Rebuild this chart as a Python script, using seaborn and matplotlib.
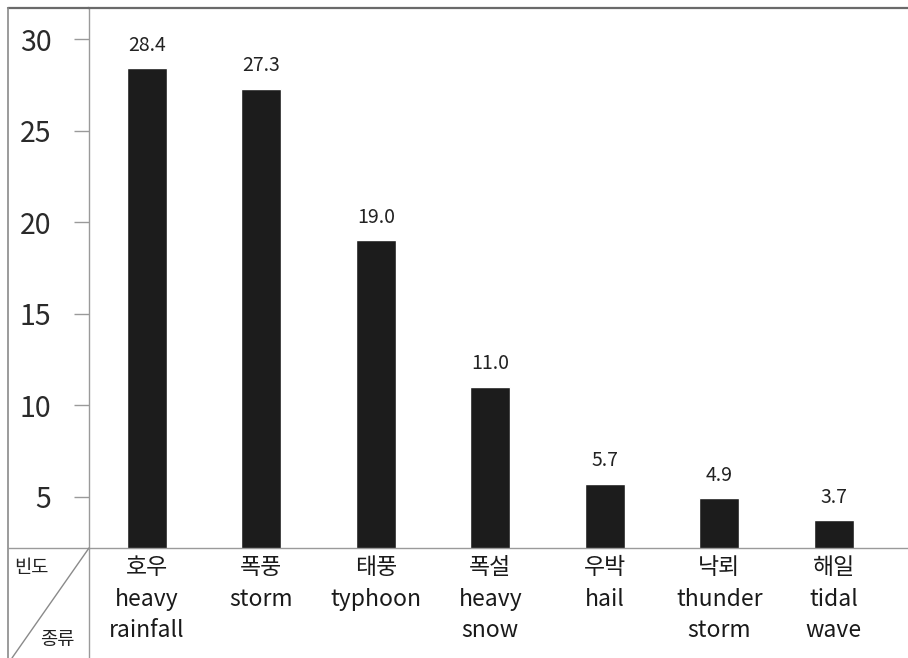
import matplotlib
matplotlib.use("Agg")
import matplotlib.pyplot as plt
from matplotlib.lines import Line2D
import seaborn as sns
import pandas as pd

# frequency (%) of each disaster type
korean = ["호우", "폭풍", "태풍", "폭설", "우박", "낙뢰", "해일"]
english = ["heavy\nrainfall", "storm", "typhoon", "heavy\nsnow", "hail",
           "thunder\nstorm", "tidal\nwave"]
freq = [28.4, 27.3, 19.0, 11.0, 5.7, 4.9, 3.7]
yticks = [5, 10, 15, 20, 25, 30]
row_label = "빈도"
col_label = "종류"

W, H = 908, 658

sns.set_style("white")
plt.rcParams['font.family'] = ['Noto Sans CJK KR', 'DejaVu Sans']

df = pd.DataFrame({"kind": [k + "\n" + e for k, e in zip(korean, english)],
                   "freq": freq})

fig = plt.figure(figsize=(W / 100, H / 100), dpi=100)
# axes: left at the y-axis line, bottom at the baseline, top at the frame
ax = fig.add_axes([89 / W, (H - 548) / H, 1 - 89 / W, (548 - 8) / H])

sns.barplot(data=df, x="kind", y="freq", color="#1c1c1c", saturation=1,
            width=0.35, ax=ax)
ax.bar_label(ax.containers[0], fmt="%.1f", padding=9, fontsize=14,
             color="#222222")

ax.set_xlim(-0.507, 6.65)
ax.set_ylim(2.19, 31.7)
ax.set_yticks(yticks)
ax.set_xlabel("")
ax.set_ylabel("")

ax.tick_params(axis="y", direction="out", length=11, width=1.0,
               color="#9a9a9a", pad=16, labelsize=20.5, labelcolor="#2a2a2a",
               left=True)
ax.tick_params(axis="x", length=0, pad=6, labelsize=16.5, labelcolor="#1a1a1a")
for lab in ax.get_xticklabels():
    lab.set_linespacing(1.46)

ax.spines["right"].set_visible(False)
ax.spines["left"].set_color("#9a9a9a")
ax.spines["left"].set_linewidth(1.0)
ax.spines["top"].set_color("#6a6a6a")
ax.spines["top"].set_linewidth(1.6)
ax.spines["bottom"].set_color("#9a9a9a")
ax.spines["bottom"].set_linewidth(1.0)


def fline(x0, y0, x1, y1, color="#9a9a9a", lw=1.0):
    fig.add_artist(Line2D([x0 / W, x1 / W], [1 - y0 / H, 1 - y1 / H],
                          transform=fig.transFigure, color=color, lw=lw))


# outer frame and table lines
fline(8, 8, 89, 8, color="#6a6a6a", lw=1.6)
fline(8, 8, 8, H, color="#8a8a8a", lw=1.2)
fline(89, 548, 89, H)
fline(8, 548, 89, 548)
fline(89, 548, 12, H, color="#8a8a8a")

fig.text(14 / W, 1 - 567 / H, row_label, fontsize=13.5, va="center",
         ha="left", color="#222222")
fig.text(57 / W, 1 - 640 / H, col_label, fontsize=13.5, va="center",
         ha="center", color="#222222")

fig.savefig("out.png", dpi=100)
